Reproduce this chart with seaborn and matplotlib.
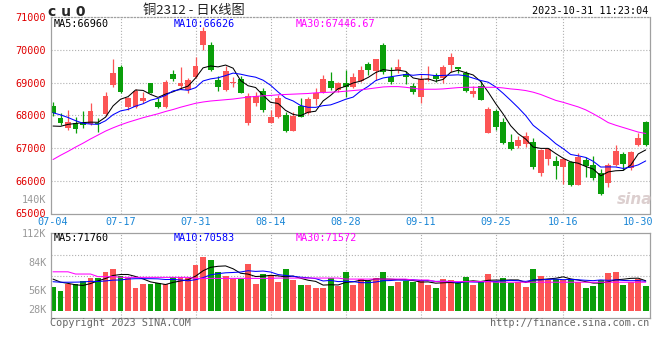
import numpy as np
import pandas as pd
import seaborn as sns
import matplotlib
matplotlib.use('Agg')
import matplotlib.pyplot as plt

## Data (price in yuan, volume in K lots)
open_ = [68286, 67930, 67610, 67756, 67780, 67735, 67780, 68030, 68930, 69490,
         68245, 68245, 68440, 68980, 68420, 68265, 69266, 68910, 68776, 69184,
         70160, 70150, 69080, 68776, 68990, 69110, 67756, 68388, 68745, 67776,
         67940, 68010, 67532, 68300, 68062, 68490, 68725, 69050, 68776, 69000,
         68858, 69060, 69570, 69370, 70150, 69184, 69390, 69255, 68900, 68550,
         69080, 69235, 69130, 69540, 69470, 69286, 68643, 68900, 67470, 68133,
         67807, 67195, 67062, 67113, 67175, 66226, 66654, 66600, 66410, 66583,
         65880, 66640, 66480, 66226, 65920, 66480, 66810, 66380, 67093, 67807]
high = [68419, 68060, 68165, 67960, 68130, 68370, 67910, 68720, 69710, 69540,
        68550, 68800, 68725, 69000, 68520, 69080, 69390, 69470, 69130, 69775,
        70700, 70250, 69200, 69510, 69180, 69215, 68694, 68725, 68827, 68164,
        68620, 68110, 68090, 68520, 68550, 68830, 69235, 69337, 69030, 69390,
        69310, 69510, 69640, 69725, 70220, 69470, 69725, 69357, 68980, 69235,
        69510, 69300, 69540, 69920, 69490, 69357, 68900, 69050, 68266, 68184,
        67910, 67430, 67368, 67480, 67317, 66960, 66990, 66770, 66670, 66620,
        66850, 66730, 66770, 66350, 66550, 67090, 66890, 66910, 67470, 67840]
low = [67980, 67700, 67560, 67470, 67600, 67700, 67500, 67980, 68860, 68700,
       68180, 68215, 68390, 68670, 68220, 68215, 69060, 68800, 68700, 69130,
       70000, 69360, 68755, 68755, 68880, 68670, 67705, 68286, 68113, 67756,
       67910, 67500, 67520, 67940, 68040, 68320, 68700, 68776, 68725, 68550,
       68830, 69030, 69235, 69080, 69265, 68960, 69290, 68960, 68650, 68390,
       69060, 69030, 69000, 69340, 69290, 68725, 68570, 68470, 67450, 67552,
       67124, 66940, 66990, 67042, 66360, 66155, 66480, 66050, 65890, 65850,
       65870, 66130, 66022, 65580, 65820, 66450, 66330, 66330, 67062, 67073]
close = [68062, 67756, 67800, 67583, 67700, 68130, 67730, 68590, 69300, 68725,
         68520, 68755, 68520, 68694, 68265, 69030, 69100, 69000, 69080, 69510,
         70580, 69390, 68860, 69360, 69030, 68694, 68590, 68590, 68164, 67960,
         68520, 67532, 67980, 67960, 68490, 68674, 69110, 68827, 68980, 68858,
         69184, 69390, 69390, 69725, 69316, 69030, 69470, 69184, 68725, 69100,
         69110, 69100, 69470, 69800, 69420, 68745, 68745, 68470, 68195, 67654,
         67144, 66960, 67246, 67380, 66430, 66940, 66960, 66460, 66654, 65880,
         66736, 66460, 66073, 65610, 66480, 66910, 66510, 66890, 67317, 67093]
volume = [58.9, 55.0, 61.9, 61.9, 64.9, 68.2, 68.2, 73.8, 76.7, 69.8,
          68.2, 58.3, 61.9, 61.9, 63.2, 61.9, 68.8, 68.8, 68.2, 80.7,
          88.6, 86.0, 73.8, 70.1, 66.5, 66.5, 81.7, 61.9, 71.8, 70.8,
          63.9, 76.7, 65.9, 60.9, 60.9, 58.3, 58.3, 67.5, 59.9, 73.8,
          60.9, 66.5, 64.9, 68.2, 73.8, 59.9, 64.2, 64.9, 64.2, 65.9,
          60.9, 57.9, 66.8, 65.9, 62.9, 68.8, 60.9, 63.5, 71.8, 64.2,
          67.8, 62.5, 63.5, 58.9, 76.7, 69.8, 65.9, 66.8, 65.9, 66.5,
          64.2, 57.9, 59.9, 65.9, 72.8, 73.8, 60.9, 64.2, 66.8, 59.9]
# sessions before 07-04, needed for the MA5 / MA10 lines
pre_close = [68400, 68600, 68550, 68500, 68380, 67800, 67500, 67450, 67560]
pre_volume = [60, 62, 61, 63, 62, 70, 68, 69, 68]
ma30_price = [66650, 66780, 66900, 67030, 67150, 67280, 67400, 67520, 67620, 67710,
              67790, 67860, 67930, 67990, 68050, 68120, 68180, 68250, 68310, 68370,
              68410, 68440, 68460, 68480, 68500, 68530, 68560, 68580, 68600, 68610,
              68630, 68640, 68650, 68660, 68670, 68690, 68700, 68710, 68720, 68740,
              68760, 68780, 68810, 68840, 68870, 68880, 68880, 68860, 68830, 68800,
              68800, 68800, 68810, 68830, 68850, 68860, 68860, 68860, 68860, 68860,
              68840, 68810, 68790, 68760, 68710, 68640, 68550, 68460, 68400, 68330,
              68260, 68170, 68050, 67920, 67780, 67700, 67630, 67560, 67490, 67447]
ma30_vol = [74.0, 74.0, 74.0, 71.8, 71.8, 71.8, 69.2, 69.2, 69.2, 68.5,
            68.5, 68.5, 68.5, 68.5, 68.5, 68.5, 68.5, 68.5, 68.5, 67.5,
            67.5, 67.5, 67.5, 67.5, 67.5, 67.5, 67.5, 67.5, 67.5, 67.5,
            67.8, 67.8, 67.8, 67.8, 67.8, 67.8, 67.8, 67.8, 67.8, 66.8,
            66.8, 66.8, 66.8, 66.8, 66.8, 66.8, 66.8, 66.8, 65.9, 65.9,
            65.9, 64.3, 64.3, 64.3, 64.3, 64.3, 64.3, 64.3, 64.3, 63.7,
            63.7, 63.7, 63.7, 63.7, 63.7, 63.7, 63.7, 63.7, 63.7, 63.7,
            63.7, 63.7, 63.7, 63.7, 63.7, 63.7, 63.7, 63.7, 63.7, 63.7]

holidays = ['2023-09-29', '2023-10-02', '2023-10-03', '2023-10-04', '2023-10-05', '2023-10-06']
tick_dates = ['07-04', '07-17', '07-31', '08-14', '08-28', '09-11', '09-25', '10-16', '10-30']
price_ticks = [65000, 66000, 67000, 68000, 69000, 70000, 71000]
vol_ticks = [112, 84, 56]
vol_tick_labels = ['112K', '84K', '56K']

## colours
RED = '#fc5555'
GREEN = '#0a9e0a'
GRID = '#b0b0b0'
BORDER = '#a0a0a0'
MONO = 'DejaVu Sans Mono'

sns.set_style('white')
plt.rcParams['font.family'] = ['DejaVu Sans', 'Noto Sans CJK SC']

days = pd.bdate_range('2023-07-04', '2023-10-31')
days = days[~days.isin(pd.to_datetime(holidays))]
labels = list(days.strftime('%m-%d'))
tick_pos = [labels.index(d) for d in tick_dates]

o = np.array(open_)
c = np.array(close)
x = np.arange(len(c))
colors = np.where(c >= o, RED, GREEN)

ma5 = pd.Series(pre_close + close).rolling(5).mean().values[len(pre_close):]
ma10 = pd.Series(pre_close + close).rolling(10).mean().values[len(pre_close):]
vma5 = pd.Series(pre_volume + volume).rolling(5).mean().values[len(pre_volume):]
vma10 = pd.Series(pre_volume + volume).rolling(10).mean().values[len(pre_volume):]

W, H = 660, 360
fig = plt.figure(figsize=(W / 100, H / 100), dpi=100)
fig.patch.set_facecolor('white')


def fx(px):
    return px / W


def fy(py):
    return 1 - py / H


left, right = 50.7, 650
ax = fig.add_axes([fx(left), fy(213.5), fx(right - left), (213.5 - 17.3) / H])
ax2 = fig.add_axes([fx(left), fy(318.3), fx(right - left), (318.3 - 233.4) / H])

xlim = (-0.31, 79.57)

## price panel
ax.vlines(x, low, high, colors=colors, lw=0.9, zorder=2)
ax.bar(x, np.maximum(np.abs(c - o), 25), bottom=np.minimum(o, c), width=0.78,
       color=colors, linewidth=0, zorder=2)
sns.lineplot(x=x, y=ma5, ax=ax, color='black', lw=0.75, zorder=3)
sns.lineplot(x=x, y=ma10, ax=ax, color='#0000ff', lw=0.75, zorder=3)
sns.lineplot(x=x, y=ma30_price, ax=ax, color='#ff00ff', lw=0.75, zorder=3)
ax.set_xlim(*xlim)
ax.set_ylim(price_ticks[0], price_ticks[-1])
ax.set_yticks(price_ticks)
ax.set_yticklabels([str(t) for t in price_ticks], fontfamily=MONO)
ax.tick_params(axis='y', length=0, pad=3.2, labelcolor='#e00000', labelsize=7.3)
ax.set_xticks(tick_pos)
ax.set_xticklabels(tick_dates, fontfamily=MONO)
ax.tick_params(axis='x', length=0, pad=2.6, labelcolor='#1a86d6', labelsize=7.3)
for t in price_ticks[1:-1]:
    ax.axhline(t, color=GRID, lw=0.8, ls=':', zorder=1)

## volume panel
vol_base = 35.5
ax2.bar(x, np.array(volume) - vol_base, bottom=vol_base, width=0.78,
        color=colors, linewidth=0, zorder=2)
sns.lineplot(x=x, y=vma5, ax=ax2, color='black', lw=0.75, zorder=3)
sns.lineplot(x=x, y=vma10, ax=ax2, color='#0000ff', lw=0.75, zorder=3)
sns.lineplot(x=x, y=ma30_vol, ax=ax2, color='#ff00ff', lw=0.75, zorder=3)
ax2.set_xlim(*xlim)
ax2.set_ylim(28, 112)
ax2.set_yticks(vol_ticks)
ax2.set_yticklabels(vol_tick_labels, fontfamily=MONO)
ax2.tick_params(axis='y', length=0, pad=3.2, labelcolor='#999999', labelsize=7.3)
ax2.set_xticks([])
for f in [0.25, 0.5, 0.75]:
    ax2.plot([0, 1], [f, f], transform=ax2.transAxes, color=GRID, lw=0.8, ls=':', zorder=1)

for a in (ax, ax2):
    a.set_xlabel('')
    a.set_ylabel('')
    a.grid(False)
    for p in tick_pos[1:-1]:
        a.axvline(p, color=GRID, lw=0.8, ls=':', zorder=1)
    for s in a.spines.values():
        s.set_color(BORDER)
        s.set_linewidth(0.9)
ax.spines['top'].set_linestyle(':')

## legend rows
legend_x = [54, 174, 296]
legend_c = ['black', '#0000ff', '#ff00ff']
price_leg = ['MA5:66960', 'MA10:66626', 'MA30:67446.67']
vol_leg = ['MA5:71760', 'MA10:70583', 'MA30:71572']
for lx, col, t1, t2 in zip(legend_x, legend_c, price_leg, vol_leg):
    fig.text(fx(lx), fy(23.8), t1, color=col, family=MONO, fontsize=7.3, va='center')
    fig.text(fx(lx), fy(237.8), t2, color=col, family=MONO, fontsize=7.3, va='center')

## header / footer texts
fig.text(fx(48), fy(11.5), 'c u 0', fontsize=10, fontweight='bold', va='center',
         family='DejaVu Sans')
fig.text(fx(194), fy(10.5), '铜2312 - 日K线图', fontsize=9.5, ha='center', va='center',
         color='#222222', family=['Noto Sans CJK SC', 'DejaVu Sans'])
fig.text(fx(648), fy(11.5), '2023-10-31 11:23:04', fontsize=7.3, ha='right', va='center',
         family=MONO, color='black')
fig.text(fx(46.5), fy(200), '140K', fontsize=7.3, ha='right', va='center',
         family=MONO, color='#999999')
fig.text(fx(46.5), fy(310), '28K', fontsize=7.3, ha='right', va='center',
         family=MONO, color='#999999')
fig.text(fx(50), fy(323.5), 'Copyright 2023 SINA.COM', fontsize=7.3, va='center',
         family=MONO, color='#666666')
fig.text(fx(649), fy(323.5), 'http://finance.sina.com.cn', fontsize=7.3, ha='right',
         va='center', family=MONO, color='#666666')
fig.text(fx(635), fy(199), 'sina', fontsize=11, ha='center', va='center',
         fontweight='bold', style='italic', color='#dccfcf', zorder=0)

fig.savefig('out.png', dpi=100, facecolor='white')
